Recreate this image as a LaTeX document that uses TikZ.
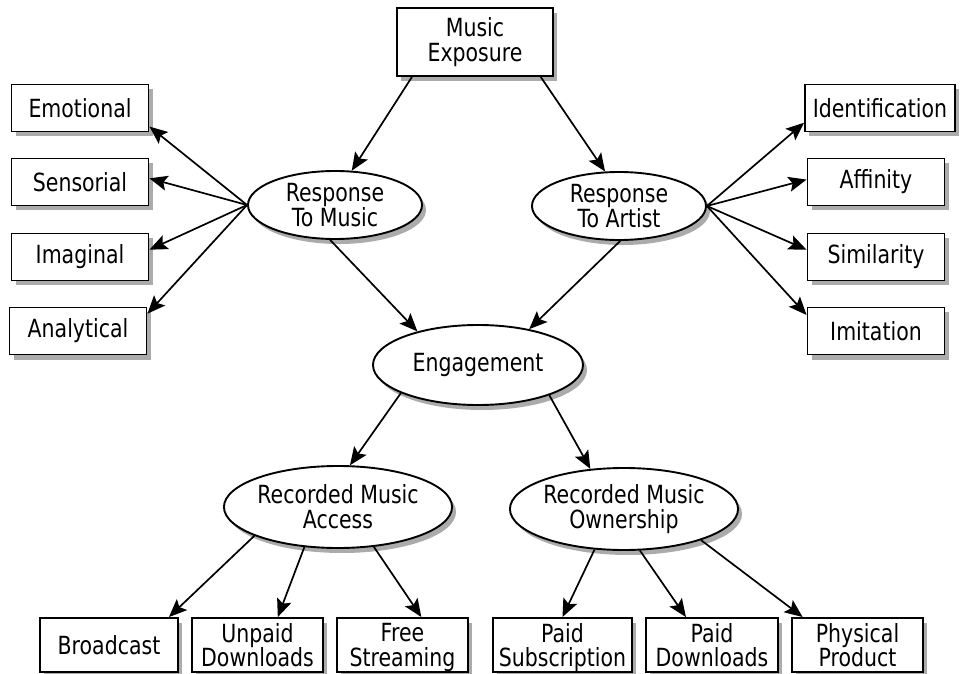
\documentclass[tikz,border=0pt]{standalone}
\usepackage{fontspec}
\setmainfont{DejaVu Sans}[FakeStretch=0.82]
\usepackage{tikz}
\usetikzlibrary{shapes.geometric,arrows.meta,shadows}

\begin{document}
\begin{tikzpicture}[
  x=0.5pt, y=-0.5pt,
  shade/.style={drop shadow={shadow xshift=2pt, shadow yshift=-2.5pt, fill=black!33, opacity=1}},
  box/.style={draw, line width=0.95pt, fill=white, align=center, inner sep=2pt, shade,
              minimum width=68.5pt, minimum height=23.5pt, font=\fontsize{12.5}{12.5}\selectfont},
  tallbox/.style={box, minimum width=65.5pt, minimum height=27pt, inner ysep=0.5pt,
                  text depth=0pt},
  bubble/.style={ellipse, draw, line width=0.95pt, fill=white, align=center, inner sep=0pt, shade,
                 minimum width=87pt, minimum height=34pt, font=\fontsize{12.5}{12.5}\selectfont},
  bigbubble/.style={bubble, minimum width=105pt, minimum height=40pt},
  ar/.style={-{Stealth[length=9pt, width=7.5pt, inset=1.8pt]}, line width=0.85pt}
]
\useasboundingbox (0,0) rectangle (960,674);

\node[box, minimum width=78pt, minimum height=34pt] (ex) at (475,42) {Music\\ Exposure};

\node[bubble] (rm) at (335,205) {Response\\ To Music};
\node[bubble] (ra) at (619,206) {Response\\ To Artist};

\node[box] (emo) at (80,108) {Emotional};
\node[box] (sen) at (80,182) {Sensorial};
\node[box] (ima) at (80,257) {Imaginal};
\node[box] (ana) at (78,331) {Analytical};

\node[box, minimum width=75pt] (ide) at (880,108) {Identification};
\node[box] (aff) at (876,182) {Affinity};
\node[box] (sim) at (876,257) {Similarity};
\node[box] (imi) at (876,331) {Imitation};

\node[bigbubble] (eng) at (478,365) {Engagement};
\node[bigbubble, minimum height=41pt] (acc) at (338,507) {Recorded Music\\ Access};
\node[bigbubble, minimum width=106pt, minimum height=41pt] (own) at (624,509) {Recorded Music\\ Ownership};

\node[tallbox, minimum width=69pt] (bro) at (109,645) {Broadcast};
\node[tallbox] (unp) at (257.5,645) {Unpaid\\ Downloads};
\node[tallbox] (fre) at (402.5,645) {Free\\ Streaming};
\node[tallbox, minimum width=69.5pt] (pai) at (562.5,645) {Paid\\ Subscription};
\node[tallbox, minimum width=66pt] (pdl) at (712,645) {Paid\\ Downloads};
\node[tallbox] (phy) at (857.5,645) {Physical\\ Product};

\draw[ar] (ex.-151) -- (rm.64); \draw[ar] (ex.-28) -- (ra.112);
\draw[ar] (rm.west) -- (emo.-15); \draw[ar] (rm.west) -- (sen.3);
\draw[ar] (rm.west) -- (ima.6); \draw[ar] (rm.west) -- (ana.14);
\draw[ar] (ra.east) -- (ide.-169); \draw[ar] (ra.east) -- (aff.178);
\draw[ar] (ra.east) -- (sim.174); \draw[ar] (ra.east) -- (imi.167);
\draw[ar] (rm.-98) -- (eng.151); \draw[ar] (ra.-88) -- (eng.35);
\draw[ar] (eng.-160) -- (acc.74); \draw[ar] (eng.-23) -- (own.130);
\draw[ar] (acc.-161) -- (bro.25); \draw[ar] (acc.-130) -- (unp.54);
\draw[ar] (acc.-48) -- (fre.56);
\draw[ar] (own.-126) -- (pai.north); \draw[ar] (own.-69) -- (pdl.133);
\draw[ar] (own.-22) -- (phy.153);
\end{tikzpicture}
\end{document}
